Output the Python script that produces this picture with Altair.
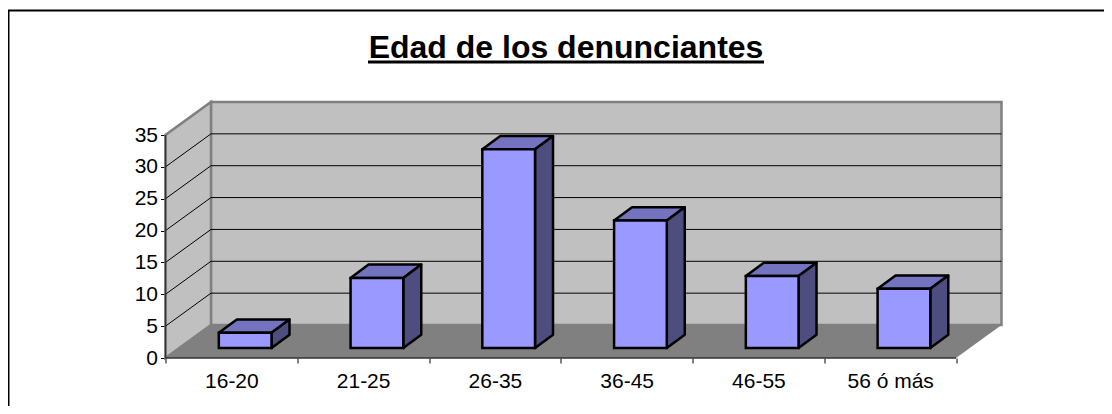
import altair as alt
import pandas as pd

categories = ["16-20", "21-25", "26-35", "36-45", "46-55", "56 ó más"]
values = [2.4, 11.0, 31.2, 20.0, 11.3, 9.3]
y_ticks = [0, 5, 10, 15, 20, 25, 30, 35]
chart_title = "Edad de los denunciantes"

FONT = "Liberation Sans"
# plot geometry (in data units): oblique depth of the 3D box
n = len(categories)
px_x = 791 / n      # pixels per category
px_y = 223 / 35     # pixels per value unit
DX = 45.5 / px_x
DY = 33 / px_y
W = 836
H = 255
XD = [0, n + DX]
YD = [0, H / px_y]
# bar placement inside the floor
BAR_W = 0.40
BAR_X0 = 0.30 + 13.8 / px_x
BAR_Y0 = 10 / px_y
BAR_DX = 18 / px_x
BAR_DY = 13.3 / px_y

xs = alt.Scale(domain=XD, nice=False, zero=False)
ys = alt.Scale(domain=YD, nice=False, zero=False)

label_arr = "[" + ",".join("'%s'" % c for c in categories) + "]"
x_axis = alt.Axis(
    title=None, domain=False, grid=False,
    values=[i / 2 for i in range(2 * n + 1)],
    labelExpr=f"datum.value % 1 ? {label_arr}[floor(datum.value)] : ''",
    tickSize=5, tickColor="#000000", tickWidth=1,
    tickOpacity={"condition": {"test": "datum.value % 1 === 0", "value": 1}, "value": 0},
    labelFont=FONT, labelFontSize=21, labelColor="#000000", labelPadding=7,
    labelOverlap=False, labelFlush=False, labelBound=False, labelAngle=0,
)
y_axis = alt.Axis(
    title=None, domain=False, grid=False, values=y_ticks, format=".0f",
    tickSize=5, tickColor="#000000", tickWidth=1,
    labelFont=FONT, labelFontSize=21, labelColor="#000000", labelPadding=3,
    labelOverlap=False, labelFlush=False, labelBound=False,
)

def X(f="x"):
    return alt.X(f"{f}:Q", scale=xs, axis=x_axis)

def Y(f="y"):
    return alt.Y(f"{f}:Q", scale=ys, axis=y_axis)

# back wall
back = alt.Chart(pd.DataFrame([{"x": DX, "x2": n + DX, "y": DY, "y2": 35 + DY}])).mark_rect(
    fill="#C0C0C0", stroke="#808080", strokeWidth=2.5
).encode(x=X(), x2="x2:Q", y=Y(), y2="y2:Q")

# left wall
left = alt.Chart(pd.DataFrame([
    {"x": 0, "y": 0, "y2": 35},
    {"x": DX, "y": DY, "y2": 35 + DY},
])).mark_area(orient="vertical", fill="#C0C0C0", stroke="#808080", strokeWidth=2.5).encode(
    x=X(), y=Y(), y2="y2:Q"
)

# floor
floor = alt.Chart(pd.DataFrame([
    {"x": 0, "x2": n, "y": 0},
    {"x": DX, "x2": n + DX, "y": DY},
])).mark_area(orient="horizontal", fill="#808080").encode(
    x=X(), x2="x2:Q", y=Y()
)

# gridlines on the back wall and the left wall
grid_vals = [v for v in y_ticks if 0 < v < 35]
grid_back = alt.Chart(pd.DataFrame([
    {"x": DX, "x2": n + DX, "y": v + DY} for v in grid_vals
])).mark_rule(color="#000000", strokeWidth=1).encode(x=X(), x2="x2:Q", y=Y())

grid_left = alt.Chart(pd.DataFrame(
    [{"v": v, "x": 0, "y": v} for v in grid_vals] +
    [{"v": v, "x": DX, "y": v + DY} for v in grid_vals]
)).mark_line(color="#000000", strokeWidth=1).encode(x=X(), y=Y(), detail="v:N")

# front axis lines
y_line = alt.Chart(pd.DataFrame([{"x": 0, "y": 0, "y2": 35}])).mark_rule(
    color="#333333", strokeWidth=1.5
).encode(x=X(), y=Y(), y2="y2:Q")
x_line = alt.Chart(pd.DataFrame([{"x": 0, "x2": n, "y": 0}])).mark_rule(
    color="#333333", strokeWidth=1.5
).encode(x=X(), x2="x2:Q", y=Y())

# bars
fronts, tops, sides = [], [], []
for i, (c, v) in enumerate(zip(categories, values)):
    x0 = i + BAR_X0
    x1 = x0 + BAR_W
    b = BAR_Y0
    t = BAR_Y0 + v
    fronts.append({"cat": c, "x": x0, "x2": x1, "y": b, "y2": t})
    tops.append({"cat": c, "x": x0, "x2": x1, "y": t})
    tops.append({"cat": c, "x": x0 + BAR_DX, "x2": x1 + BAR_DX, "y": t + BAR_DY})
    sides.append({"cat": c, "x": x1, "y": b, "y2": t})
    sides.append({"cat": c, "x": x1 + BAR_DX, "y": b + BAR_DY, "y2": t + BAR_DY})

bar_top = alt.Chart(pd.DataFrame(tops)).mark_area(
    orient="horizontal", fill="#7373BF", stroke="#000000", strokeWidth=2.5, strokeJoin="round"
).encode(x=X(), x2="x2:Q", y=Y(), detail="cat:N")
bar_side = alt.Chart(pd.DataFrame(sides)).mark_area(
    orient="vertical", fill="#4D4D80", stroke="#000000", strokeWidth=2.5, strokeJoin="round"
).encode(x=X(), y=Y(), y2="y2:Q", detail="cat:N")
bar_front = alt.Chart(pd.DataFrame(fronts)).mark_rect(
    fill="#9999FF", stroke="#000000", strokeWidth=2.5
).encode(x=X(), x2="x2:Q", y=Y(), y2="y2:Q")

# title, its underline and the outer frame (open on the right and at the bottom)
one = pd.DataFrame([{"t": chart_title}])
title = alt.Chart(one).mark_text(
    font=FONT, fontSize=32, fontWeight="bold", color="#000000", align="center", baseline="alphabetic"
).encode(text="t:N", x=alt.value(400.5), y=alt.value(-45.5))
underline = alt.Chart(one).mark_rule(color="#000000", strokeWidth=3).encode(
    x=alt.value(202.5), x2=alt.value(598.5), y=alt.value(-41)
)
frame_top = alt.Chart(one).mark_rule(color="#000000", strokeWidth=2).encode(
    x=alt.value(-157.5), x2=alt.value(960), y=alt.value(-92.5)
)
frame_left = alt.Chart(one).mark_rule(color="#000000", strokeWidth=2).encode(
    x=alt.value(-157), y=alt.value(-92.5), y2=alt.value(320)
)

chart = alt.layer(
    back, left, floor, grid_back, grid_left, y_line, x_line,
    bar_top, bar_side, bar_front, title, underline, frame_top, frame_left,
).properties(
    width=W, height=H,
    background="#FFFFFF",
    padding={"left": 157.5, "top": 95, "right": 102.5, "bottom": 48},
    autosize=alt.AutoSizeParams(type="none"),
).configure_view(strokeWidth=0, stroke=None)

chart.save("out.html", embed_options={"renderer": "svg", "actions": False})
